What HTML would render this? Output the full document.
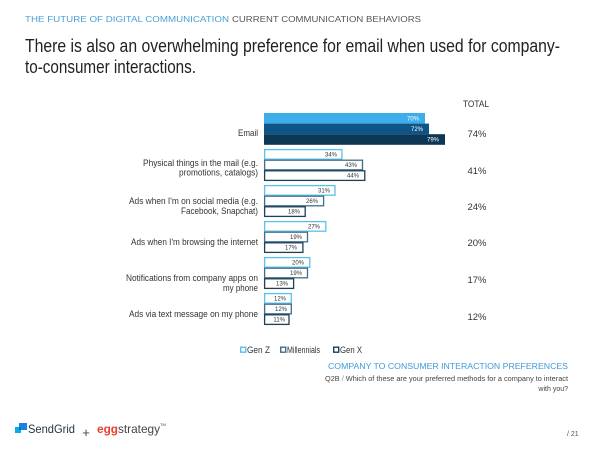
<!DOCTYPE html>
<html><head><meta charset="utf-8"><style>
html,body{margin:0;padding:0;background:#fff;}
svg{display:block;font-family:"Liberation Sans",Arial,sans-serif;}
</style></head><body>
<svg width="600" height="450" viewBox="0 0 600 450" xmlns="http://www.w3.org/2000/svg">
<rect width="600" height="450" fill="#fff"/>
<!-- header -->
<text x="25" y="22" font-size="8" fill="#4a9fd8" textLength="204" lengthAdjust="spacingAndGlyphs">THE FUTURE OF DIGITAL COMMUNICATION</text>
<text x="232" y="22" font-size="8" fill="#555" textLength="189" lengthAdjust="spacingAndGlyphs">CURRENT COMMUNICATION BEHAVIORS</text>
<!-- title -->
<text x="25" y="52" font-size="18" fill="#222" textLength="535" lengthAdjust="spacingAndGlyphs">There is also an overwhelming preference for email when used for company-</text>
<text x="25" y="73" font-size="18" fill="#222" textLength="171" lengthAdjust="spacingAndGlyphs">to-consumer interactions.</text>

<!-- TOTAL column -->
<text x="476" y="107" font-size="9" fill="#333" text-anchor="middle" textLength="26" lengthAdjust="spacingAndGlyphs">TOTAL</text>
<g font-size="9.5" fill="#333" text-anchor="middle">
<text x="477" y="137">74%</text>
<text x="477" y="174">41%</text>
<text x="477" y="210">24%</text>
<text x="477" y="246">20%</text>
<text x="477" y="283">17%</text>
<text x="477" y="320">12%</text>
</g>

<!-- category labels -->
<g font-size="9" fill="#333" text-anchor="end">
<text x="258" y="136" textLength="20" lengthAdjust="spacingAndGlyphs">Email</text>
<text x="258" y="166" textLength="115" lengthAdjust="spacingAndGlyphs">Physical things in the mail (e.g.</text>
<text x="258" y="175.5" textLength="79" lengthAdjust="spacingAndGlyphs">promotions, catalogs)</text>
<text x="258" y="204" textLength="129" lengthAdjust="spacingAndGlyphs">Ads when I'm on social media (e.g.</text>
<text x="258" y="214" textLength="77" lengthAdjust="spacingAndGlyphs">Facebook, Snapchat)</text>
<text x="258" y="245" textLength="127" lengthAdjust="spacingAndGlyphs">Ads when I'm browsing the internet</text>
<text x="258" y="281" textLength="132" lengthAdjust="spacingAndGlyphs">Notifications from company apps on</text>
<text x="258" y="291" textLength="35" lengthAdjust="spacingAndGlyphs">my phone</text>
<text x="258" y="317" textLength="129" lengthAdjust="spacingAndGlyphs">Ads via text message on my phone</text>
</g>

<!-- Email bars (filled) -->
<rect x="264" y="113" width="161" height="10.6" fill="#3daee9"/>
<rect x="264" y="123.6" width="165" height="10.6" fill="#0e5486"/>
<rect x="264" y="134.2" width="181" height="10.6" fill="#0b3754"/>
<g font-size="6" fill="#fff" text-anchor="end">
<text x="419" y="120.5">70%</text>
<text x="423" y="131.1">72%</text>
<text x="439" y="141.7">79%</text>
</g>

<!-- white bars -->
<g fill="#fff" stroke-width="1.3">
<rect x="264.6" y="149.6" width="77.3" height="9.6" stroke="#5cc0ea"/>
<rect x="264.6" y="160.2" width="97.9" height="9.6" stroke="#3f6e8a"/>
<rect x="264.6" y="170.8" width="100.2" height="9.6" stroke="#1f3f57"/>
<rect x="264.6" y="185.6" width="70.4" height="9.6" stroke="#5cc0ea"/>
<rect x="264.6" y="196.2" width="59" height="9.6" stroke="#3f6e8a"/>
<rect x="264.6" y="206.8" width="40.6" height="9.6" stroke="#1f3f57"/>
<rect x="264.6" y="221.6" width="61.2" height="9.6" stroke="#5cc0ea"/>
<rect x="264.6" y="232.2" width="42.9" height="9.6" stroke="#3f6e8a"/>
<rect x="264.6" y="242.8" width="38.3" height="9.6" stroke="#1f3f57"/>
<rect x="264.6" y="257.6" width="45.2" height="9.6" stroke="#5cc0ea"/>
<rect x="264.6" y="268.2" width="42.9" height="9.6" stroke="#3f6e8a"/>
<rect x="264.6" y="278.8" width="29" height="9.6" stroke="#1f3f57"/>
<rect x="264.6" y="293.6" width="26.7" height="9.6" stroke="#5cc0ea"/>
<rect x="264.6" y="304.2" width="26.7" height="9.6" stroke="#3f6e8a"/>
<rect x="264.6" y="314.8" width="24.4" height="9.6" stroke="#1f3f57"/>
</g>
<g font-size="6" fill="#333" text-anchor="end">
<text x="337" y="156.5">34%</text>
<text x="357" y="167.1">43%</text>
<text x="359" y="177.7">44%</text>
<text x="330" y="192.5">31%</text>
<text x="318" y="203.1">26%</text>
<text x="300" y="213.7">18%</text>
<text x="320" y="228.5">27%</text>
<text x="302" y="239.1">19%</text>
<text x="297" y="249.7">17%</text>
<text x="304" y="264.5">20%</text>
<text x="302" y="275.1">19%</text>
<text x="288" y="285.7">13%</text>
<text x="286" y="300.5">12%</text>
<text x="287" y="311.1">12%</text>
<text x="285" y="321.7">11%</text>
</g>

<!-- legend -->
<rect x="240.7" y="347.2" width="5" height="5" fill="#fff" stroke="#5cc0ea" stroke-width="1.4"/>
<text x="247" y="353" font-size="9" fill="#333" textLength="23" lengthAdjust="spacingAndGlyphs">Gen Z</text>
<rect x="280.7" y="347.2" width="5" height="5" fill="#fff" stroke="#3f6e8a" stroke-width="1.4"/>
<text x="287" y="353" font-size="9" fill="#333" textLength="33" lengthAdjust="spacingAndGlyphs">Millennials</text>
<rect x="333.7" y="347.2" width="5" height="5" fill="#fff" stroke="#1f3f57" stroke-width="1.4"/>
<text x="340" y="353" font-size="9" fill="#333" textLength="22" lengthAdjust="spacingAndGlyphs">Gen X</text>

<!-- source -->
<text x="328" y="369" font-size="8" fill="#3d9ad9" textLength="240" lengthAdjust="spacingAndGlyphs">COMPANY TO CONSUMER INTERACTION PREFERENCES</text>
<text x="325" y="381" font-size="7" fill="#444" textLength="243" lengthAdjust="spacingAndGlyphs">Q2B <tspan fill="#3d9ad9">/</tspan> Which of these are your preferred methods for a company to interact</text>
<text x="568" y="391" font-size="7" fill="#444" text-anchor="end">with you?</text>

<!-- footer logos -->
<rect x="19" y="423" width="8" height="7" fill="#1a82e2"/>
<rect x="15" y="427" width="6" height="6" fill="#00b2e3"/>
<rect x="19" y="427" width="2" height="3" fill="#0a6fc9"/>
<text x="28" y="433" font-size="12" fill="#263746" textLength="47" lengthAdjust="spacingAndGlyphs">SendGrid</text>
<text x="86" y="437" font-size="13" fill="#444" text-anchor="middle">+</text>
<text x="97" y="433" font-size="12" fill="#444" textLength="63" lengthAdjust="spacingAndGlyphs"><tspan fill="#e8412c" font-weight="bold">egg</tspan>strategy</text>
<text x="160" y="426" font-size="4" fill="#444">TM</text>
<text x="567" y="436" font-size="7" fill="#555">/ 21</text>
</svg>
</body></html>
